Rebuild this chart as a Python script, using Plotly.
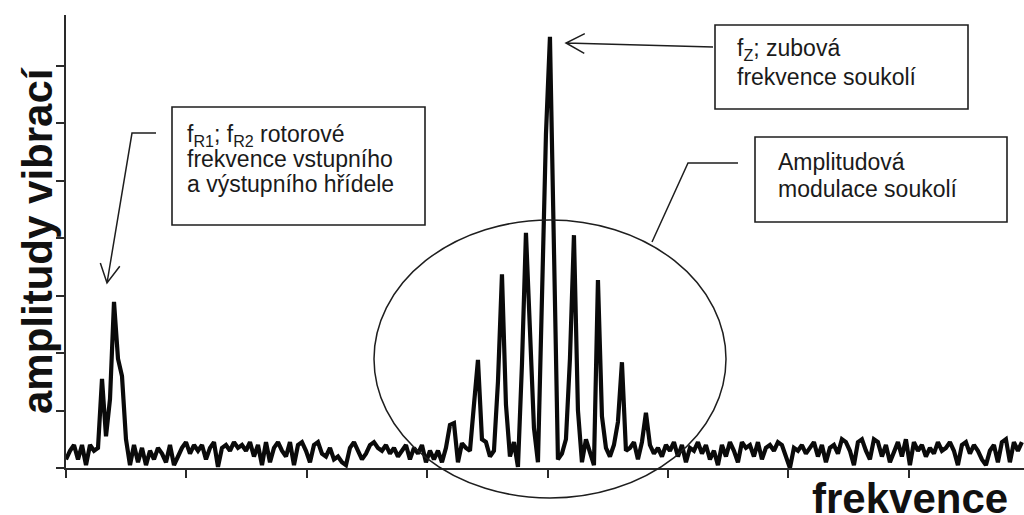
import math
import plotly.graph_objects as go

# ---------------- data ----------------
# spectrum amplitude, sampled on a uniform frequency grid (axis units: one tick = 1)
amplitude = [
    0.15, 0.3, 0.4, 0.15, 0.4, 0.05, 0.4, 0.3, 0.35, 1.55,
    0.55, 1.2, 2.89, 1.9, 1.6, 0.5, 0.05, 0.4, 0.1, 0.35,
    0.05, 0.3, 0.15, 0.35, 0.25, 0.1, 0.4, 0.05, 0.2, 0.35,
    0.45, 0.25, 0.4, 0.3, 0.4, 0.15, 0.35, 0.45, 0.02, 0.35,
    0.4, 0.3, 0.45, 0.35, 0.4, 0.3, 0.45, 0.2, 0.4, 0.05,
    0.45, 0.1, 0.35, 0.45, 0.3, 0.2, 0.45, 0.05, 0.4, 0.45,
    0.3, 0.1, 0.4, 0.45, 0.25, 0.2, 0.35, 0.15, 0.2, 0.1,
    0.05, 0.35, 0.45, 0.3, 0.15, 0.25, 0.4, 0.45, 0.35, 0.3,
    0.4, 0.25, 0.35, 0.2, 0.3, 0.4, 0.15, 0.35, 0.25, 0.4,
    0.1, 0.3, 0.15, 0.3, 0.1, 0.35, 0.75, 0.78, 0.1, 0.43,
    0.35, 0.3, 1.1, 1.88, 0.5, 0.45, 0.2, 0.3, 1.5, 3.37,
    1.1, 0.2, 0.45, 0.02, 1.8, 4.09, 2.4, 0.7, 0.1, 3.0,
    5.8, 7.5, 3.5, 0.15, 0.25, 0.5, 1.9, 4.05, 1.0, 0.1,
    0.5, 0.3, 0.05, 3.27, 0.9, 0.35, 0.2, 0.4, 0.8, 1.84,
    0.3, 0.35, 0.45, 0.15, 0.45, 0.96, 0.4, 0.25, 0.35, 0.2,
    0.4, 0.3, 0.45, 0.2, 0.4, 0.1, 0.35, 0.3, 0.45, 0.25,
    0.4, 0.15, 0.3, 0.05, 0.4, 0.2, 0.45, 0.3, 0.1, 0.45,
    0.35, 0.4, 0.2, 0.45, 0.15, 0.35, 0.4, 0.3, 0.45, 0.4,
    0.2, 0.0, 0.35, 0.3, 0.4, 0.25, 0.35, 0.45, 0.2, 0.4,
    0.1, 0.35, 0.4, 0.25, 0.5, 0.45, 0.3, 0.05, 0.45, 0.5,
    0.3, 0.15, 0.5, 0.45, 0.2, 0.4, 0.1, 0.3, 0.45, 0.2,
    0.5, 0.05, 0.45, 0.3, 0.4, 0.2, 0.35, 0.25, 0.45, 0.3,
    0.35, 0.45, 0.3, 0.05, 0.4, 0.45, 0.25, 0.4, 0.3, 0.15,
    0.05, 0.3, 0.4, 0.1, 0.45, 0.5, 0.1, 0.45, 0.3, 0.45,
]
freq_step = 0.03322  # sampling interval in axis units
frequency = [i * freq_step for i in range(len(amplitude))]

x_ticks = [0, 1, 2, 3, 4, 5, 6, 7]
y_ticks = [0, 1, 2, 3, 4, 5, 6, 7]
x_range = [0, 7.957]
y_range = [0, 7.88]

x_title = "frekvence"
y_title = "amplitudy vibrací"

box1_lines = ["f<sub>R1</sub>; f<sub>R2</sub> rotorové", "frekvence vstupního", "a výstupního hřídele"]
box2_lines = ["f<sub>Z</sub>; zubová", "frekvence soukolí"]
box3_lines = ["Amplitudová", "modulace soukolí"]

# ---------------- layout helpers (pixel -> paper) ----------------
W, H = 1024, 515
L, R, T, B = 66, 0, 15, 47
PW = W - L - R
PH = H - T - B


def px(x):
    return (x - L) / PW


def py(y):
    return (H - B - y) / PH


def pt(x, y):
    return f"{px(x):.5f},{py(y):.5f}"


def arrow_path(tail, tip, length=20, ang=27):
    dx, dy = tip[0] - tail[0], tip[1] - tail[1]
    n = math.hypot(dx, dy)
    dx, dy = dx / n, dy / n
    a = math.radians(ang)
    w1 = (tip[0] - length * (dx * math.cos(a) - dy * math.sin(a)),
          tip[1] - length * (dx * math.sin(a) + dy * math.cos(a)))
    w2 = (tip[0] - length * (dx * math.cos(a) + dy * math.sin(a)),
          tip[1] - length * (-dx * math.sin(a) + dy * math.cos(a)))
    return f"M{pt(*w1)} L{pt(*tip)} L{pt(*w2)}"


fig = go.Figure()
fig.add_trace(go.Scatter(
    x=frequency, y=amplitude, mode="lines",
    line=dict(color="#0a0a0a", width=4.2),
    hoverinfo="skip", showlegend=False,
))

line_col = "#1e1e1e"
shapes = []
# ellipse around the sidebands
shapes.append(dict(type="circle", xref="paper", yref="paper",
                   x0=px(374), x1=px(726), y0=py(498), y1=py(220),
                   line=dict(color=line_col, width=1.5)))
# boxes
for (x0, y0, x1, y1) in [(172, 107, 425, 225), (715, 25, 968, 109), (755, 137, 1007, 222)]:
    shapes.append(dict(type="rect", xref="paper", yref="paper",
                       x0=px(x0), x1=px(x1), y0=py(y1), y1=py(y0),
                       line=dict(color=line_col, width=1.6), fillcolor="white"))
# leader lines / arrows
p1 = f"M{pt(156,133)} L{pt(132,133)} L{pt(107,283)} " + arrow_path((132, 133), (107, 283), 21, 28)
p2 = f"M{pt(713,47)} L{pt(566,43)} " + arrow_path((713, 47), (566, 43), 21, 28)
p3 = f"M{pt(738,163)} L{pt(688,163)} L{pt(652,242)}"
for p in (p1, p2, p3):
    shapes.append(dict(type="path", xref="paper", yref="paper", path=p,
                       line=dict(color=line_col, width=1.5)))

ann = []
txt_font = dict(family="Liberation Sans, Arial, sans-serif", size=23, color="#1a1a1a")


def add_lines(lines, x, ys):
    for t, y in zip(lines, ys):
        ann.append(dict(text=t, xref="paper", yref="paper", x=px(x), y=py(y),
                        xanchor="left", yanchor="middle", showarrow=False,
                        font=txt_font, align="left"))


add_lines(box1_lines, 185, [135, 159, 184])
add_lines(box2_lines, 735, [50, 77])
add_lines(box3_lines, 776, [162, 189])

ttl_font = dict(family="Liberation Sans, Arial, sans-serif", size=42, color="#111111")
ann.append(dict(text=f"<b>{y_title}</b>", xref="paper", yref="paper",
                x=px(37), y=py(241), xanchor="center", yanchor="middle",
                textangle=-90, showarrow=False, font=ttl_font))
ann.append(dict(text=f"<b>{x_title}</b>", xref="paper", yref="paper",
                x=px(910), y=py(499), xanchor="center", yanchor="middle",
                showarrow=False, font=ttl_font))

axis_common = dict(showgrid=False, zeroline=False, showticklabels=False,
                   showline=True, linecolor="#2a2a2a", linewidth=2,
                   ticks="outside", ticklen=8, tickwidth=1.5, tickcolor="#2a2a2a")
fig.update_layout(
    width=W, height=H,
    margin=dict(l=L, r=R, t=T, b=B, pad=0),
    paper_bgcolor="white", plot_bgcolor="white",
    xaxis=dict(range=x_range, tickvals=x_ticks, **axis_common),
    yaxis=dict(range=y_range, tickvals=y_ticks, **axis_common),
    shapes=shapes, annotations=ann,
    showlegend=False,
)
fig.write_html("out.html")
